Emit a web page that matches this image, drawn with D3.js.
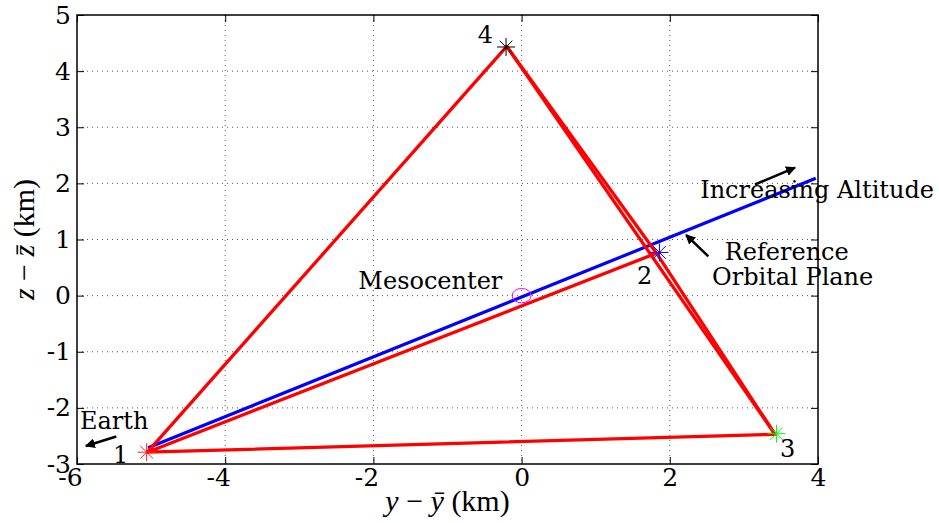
<!DOCTYPE html>
<html>
<head>
<meta charset="utf-8">
<script src="https://cdn.jsdelivr.net/npm/d3@7"></script>
<style>
  body { margin: 0; background: #fff; }
  svg { display: block; }
  .tick text { font-family: "DejaVu Serif", serif; }
</style>
</head>
<body>
<div id="chart"></div>
<script>
// tick values
var xTicks = [-6, -4, -2, 0, 2, 4];
var yTicks = [-3, -2, -1, 0, 1, 2, 3, 4, 5];

// formation points 1..4 (km)
var pointNames = ["1", "2", "3", "4"];
var pointY = [-5.06, 1.86, 3.44, -0.21];
var pointZ = [-2.79, 0.77, -2.46, 4.43];
var pointColors = ["#ff2020", "#0000ff", "#00ff00", "#000000"];

// red trajectory (two polylines)
var trajA_y = [1.82, -5.05, -0.20, 3.42, -5.05];
var trajA_z = [0.756, -2.79, 4.44, -2.47, -2.79];
var trajB_y = [-0.20, 1.82, 3.42];
var trajB_z = [4.44, 0.756, -2.47];

// reference orbital plane (blue)
var planeY = [-5.04, 3.97];
var planeZ = [-2.71, 2.09];

// mesocenter
var mesoY = 0, mesoZ = 0, mesoR = 0.128;

// point labels
var labelY = [-5.41, 1.66, 3.59, -0.49];
var labelZ = [-2.99, 0.20, -2.88, 4.50];

// annotations
var noteText = ["Mesocenter", "Earth", "Increasing Altitude", "Reference", "Orbital Plane"];
var noteY = [-0.26, -5.96, 2.41, 2.74, 2.57];
var noteZ = [0.11, -2.38, 1.74, 0.63, 0.185];
var noteAnchor = ["end", "start", "start", "start", "start"];

var arrowFrom = [[-5.47, -2.51], [3.15, 1.98], [2.52, 0.70]];
var arrowTo = [[-5.88, -2.68], [3.69, 2.28], [2.22, 1.08]];

var W = 939, H = 523;
var margin = { top: 15, right: 121, bottom: 59, left: 77 },
    width = W - margin.left - margin.right,
    height = H - margin.top - margin.bottom;

var svg = d3.select("#chart").append("svg")
    .attr("width", W)
    .attr("height", H);

var g = svg.append("g")
    .attr("transform", "translate(" + margin.left + "," + margin.top + ")");

var x = d3.scaleLinear().domain([-6, 4]).range([0, width]);
var y = d3.scaleLinear().domain([-3, 5]).range([height, 0]);

// grid
g.selectAll(".gx").data(xTicks.slice(1, -1)).enter().append("line")
    .attr("x1", d => x(d)).attr("x2", d => x(d))
    .attr("y1", 0).attr("y2", height)
    .attr("stroke", "#555").attr("stroke-width", 1)
    .attr("stroke-dasharray", "1,4");
g.selectAll(".gy").data(yTicks.slice(1, -1)).enter().append("line")
    .attr("y1", d => y(d)).attr("y2", d => y(d))
    .attr("x1", 0).attr("x2", width)
    .attr("stroke", "#555").attr("stroke-width", 1)
    .attr("stroke-dasharray", "1,4");

// axes (ticks inside, like matlab)
var fmt = d => String(d);
var xAxis = g.append("g")
    .attr("transform", "translate(0," + height + ")")
    .call(d3.axisBottom(x).tickValues(xTicks).tickSize(-7).tickPadding(3).tickFormat(fmt));
xAxis.selectAll("text")
    .attr("dx", d => d < 0 ? -7 : 0)
    .attr("dy", "0.75em");
var yAxis = g.append("g")
    .call(d3.axisLeft(y).tickValues(yTicks).tickSize(-7).tickPadding(6).tickFormat(fmt));
g.append("g")
    .call(d3.axisTop(x).tickValues(xTicks).tickSize(-7).tickFormat(""));
g.append("g")
    .attr("transform", "translate(" + width + ",0)")
    .call(d3.axisRight(y).tickValues(yTicks).tickSize(-7).tickFormat(""));

g.selectAll(".domain").remove();
g.selectAll(".tick line").attr("stroke", "#000").attr("stroke-width", 1);
g.selectAll(".tick text").attr("font-size", "25px").attr("fill", "#000");

g.append("rect")
    .attr("width", width).attr("height", height)
    .attr("fill", "none").attr("stroke", "#000").attr("stroke-width", 1.5);

// axis labels
svg.append("text")
    .attr("x", margin.left + width / 2)
    .attr("y", 511)
    .attr("text-anchor", "middle")
    .attr("font-family", "Liberation Serif, serif")
    .attr("font-size", "30px")
    .html('<tspan font-style="italic">y</tspan> − <tspan font-style="italic">ȳ</tspan> (km)');
svg.append("text")
    .attr("transform", "translate(34," + (margin.top + height / 2) + ") rotate(-90)")
    .attr("text-anchor", "middle")
    .attr("font-family", "Liberation Serif, serif")
    .attr("font-size", "30px")
    .html('<tspan font-style="italic">z</tspan> − <tspan font-style="italic">z̄</tspan> (km)');

// lines
var line = d3.line().x(d => x(d[0])).y(d => y(d[1]));

g.append("path")
    .datum(planeY.map((v, i) => [v, planeZ[i]]))
    .attr("d", line).attr("fill", "none")
    .attr("stroke", "#0000ff").attr("stroke-width", 3.2);

[[trajA_y, trajA_z], [trajB_y, trajB_z]].forEach(function (t) {
    g.append("path")
        .datum(t[0].map((v, i) => [v, t[1][i]]))
        .attr("d", line).attr("fill", "none")
        .attr("stroke", "#ff0000").attr("stroke-width", 3.3)
        .attr("stroke-linejoin", "round");
});

// mesocenter circle (data units)
g.append("ellipse")
    .attr("cx", x(mesoY)).attr("cy", y(mesoZ))
    .attr("rx", x(mesoR) - x(0)).attr("ry", y(0) - y(mesoR))
    .attr("fill", "none").attr("stroke", "#ff00ff").attr("stroke-width", 1);

// star markers
var star = function (sel, r) {
    var k = r * 0.7;
    var segs = [[-r, 0, r, 0], [0, -r, 0, r], [-k, -k, k, k], [-k, k, k, -k]];
    segs.forEach(function (s) {
        sel.append("line")
            .attr("x1", s[0]).attr("y1", s[1]).attr("x2", s[2]).attr("y2", s[3]);
    });
};
pointNames.forEach(function (n, i) {
    var s = g.append("g")
        .attr("transform", "translate(" + x(pointY[i]) + "," + y(pointZ[i]) + ")")
        .attr("stroke", pointColors[i]).attr("stroke-width", 1);
    star(s, 9);
});

// point labels
g.selectAll(".plabel").data(pointNames).enter().append("text")
    .attr("x", (d, i) => x(labelY[i]))
    .attr("y", (d, i) => y(labelZ[i]))
    .attr("text-anchor", "middle")
    .attr("font-family", "DejaVu Serif, serif")
    .attr("font-size", "24px")
    .text(d => d);

// annotations
g.selectAll(".note").data(noteText).enter().append("text")
    .attr("x", (d, i) => x(noteY[i]))
    .attr("y", (d, i) => y(noteZ[i]))
    .attr("text-anchor", (d, i) => noteAnchor[i])
    .attr("font-family", "DejaVu Serif, serif")
    .attr("font-size", "24px")
    .text(d => d);

// arrows
svg.append("defs").append("marker")
    .attr("id", "head")
    .attr("viewBox", "0 0 10 10")
    .attr("refX", 9).attr("refY", 5)
    .attr("markerWidth", 4).attr("markerHeight", 4)
    .attr("markerUnits", "strokeWidth")
    .attr("orient", "auto")
    .append("path")
    .attr("d", "M0,0 L10,5 L0,10 z")
    .attr("fill", "#000");

arrowFrom.forEach(function (a, i) {
    g.append("line")
        .attr("x1", x(a[0])).attr("y1", y(a[1]))
        .attr("x2", x(arrowTo[i][0])).attr("y2", y(arrowTo[i][1]))
        .attr("stroke", "#000").attr("stroke-width", 2.5)
        .attr("marker-end", "url(#head)");
});
</script>
</body>
</html>
